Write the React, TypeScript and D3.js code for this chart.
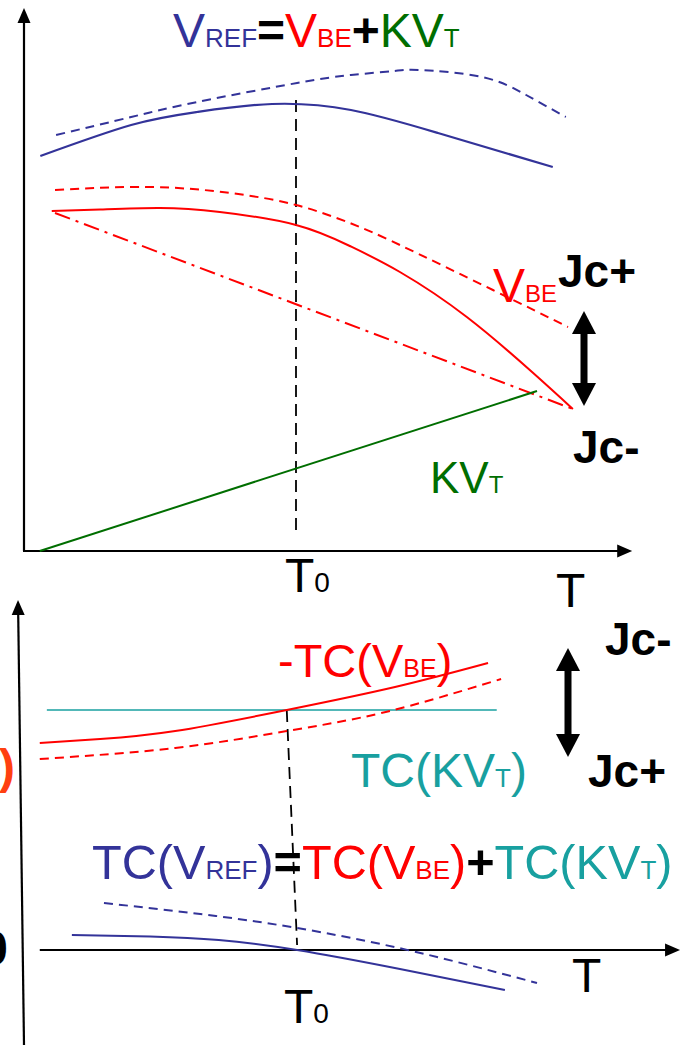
import React from "react";
import * as d3 from "d3";

// Temperature runs 0..100 with T0 at 50; voltages and TC values in arbitrary units.
const T0 = 50;

// Upper panel: voltages vs temperature
const vrefT = [3, 19.7, 31.8, 45.6, 60.1, 76.1, 97.2];
const vrefV = [79, 85.2, 87.8, 89.4, 88.2, 83.6, 76.8];
const vrefJcT = [5.9, 19.7, 31.8, 50.2, 60.1, 68, 73, 84.2, 92.3, 99.6];
const vrefJcV = [83.2, 86.8, 89.8, 93.6, 95.2, 96, 96.2, 94.8, 91.2, 86.8];
const vbeT = [5.1, 14, 25, 36, 50, 59.9, 69.1, 81.4, 93.6, 100.9];
const vbeV = [68, 68.3, 68.6, 67.8, 65.2, 61, 55.8, 46.8, 35.6, 28.4];
const vbeJcT = [5.7, 23.2, 37.9, 50, 59.9, 69.1, 86.2, 100];
const vbeJcV = [72.2, 72.8, 71.6, 69.2, 65.6, 61.2, 52.2, 44.8];
const vbeLinT = [5.7, 100.9];
const vbeLinV = [67.6, 28.4];
const kvtT = [2.9, 94.3];
const kvtV = [0, 32];
const t0TopV = [90.2, 3.2];

// Lower panel: temperature coefficients vs temperature
const tcKvtT = [4.2, 86.9];
const tcKvtV = [48, 48];
const tcVbeT = [2.9, 14, 27.8, 48.3, 68.2, 85.3];
const tcVbeV = [41.4, 42.2, 43.8, 48, 52.6, 57.4];
const tcVbeJcT = [2.9, 27.8, 48.3, 66.5, 87.7];
const tcVbeJcV = [38.2, 40.4, 43.8, 47.6, 54.2];
const tcVrefT = [8.8, 23.2, 35.8, 50.2, 69.1, 88.4];
const tcVrefV = [3, 2.7, 2, 0, -3.8, -8];
const tcVrefJcT = [14.7, 32.4, 50.2, 71.3, 94.3];
const tcVrefJcV = [9.4, 7.2, 4.4, -0.2, -6.6];
const t0BotT = [48.3, 50.2];
const t0BotV = [48, 1];

const W = 687;
const H = 1045;

const BLUE = "#333399";
const RED = "#ff0000";
const GREEN = "#006e00";
const TEAL = "#18a0a0";
const FONT = "'Liberation Sans', Arial, sans-serif";

const xScale = d3.scaleLinear().domain([0, 100]).range([24, 568]);
const yTop = d3.scaleLinear().domain([0, 100]).range([551, 51]);
const yBot = d3.scaleLinear().domain([0, 100]).range([950, 450]);

type P = [number, number];
const zip = (ts: number[], vs: number[]): P[] => ts.map((t, i) => [t, vs[i]]);

const smoothTop = d3
  .line<P>()
  .x((d) => xScale(d[0]))
  .y((d) => yTop(d[1]))
  .curve(d3.curveNatural);
const straightTop = d3
  .line<P>()
  .x((d) => xScale(d[0]))
  .y((d) => yTop(d[1]));
const smoothBot = d3
  .line<P>()
  .x((d) => xScale(d[0]))
  .y((d) => yBot(d[1]))
  .curve(d3.curveNatural);
const straightBot = d3
  .line<P>()
  .x((d) => xScale(d[0]))
  .y((d) => yBot(d[1]));

// Filled triangular arrow head pointing from (x0,y0) toward tip (x1,y1)
function head(x0: number, y0: number, x1: number, y1: number, len = 15, half = 6.5) {
  const dx = x1 - x0;
  const dy = y1 - y0;
  const n = Math.hypot(dx, dy);
  const ux = dx / n;
  const uy = dy / n;
  const bx = x1 - ux * len;
  const by = y1 - uy * len;
  return `M${x1},${y1}L${bx - uy * half},${by + ux * half}L${bx + uy * half},${by - ux * half}Z`;
}

function Axis({ x0, y0, x1, y1 }: { x0: number; y0: number; x1: number; y1: number }) {
  const n = Math.hypot(x1 - x0, y1 - y0);
  const sx = x1 - ((x1 - x0) / n) * 12;
  const sy = y1 - ((y1 - y0) / n) * 12;
  return (
    <g>
      <line x1={x0} y1={y0} x2={sx} y2={sy} stroke="#000" strokeWidth={2.2} />
      <path d={head(x0, y0, x1, y1)} fill="#000" />
    </g>
  );
}

// Thick vertical double-headed arrow for the Jc+/Jc- shift
function DoubleArrow({ x, yTopPx, yBotPx }: { x: number; yTopPx: number; yBotPx: number }) {
  const hl = 23;
  const hw = 12;
  return (
    <g fill="#000">
      <rect x={x - 3.5} y={yTopPx + hl - 2} width={7} height={yBotPx - yTopPx - 2 * hl + 4} />
      <path d={`M${x},${yTopPx}L${x + hw},${yTopPx + hl}L${x - hw},${yTopPx + hl}Z`} />
      <path d={`M${x},${yBotPx}L${x + hw},${yBotPx - hl}L${x - hw},${yBotPx - hl}Z`} />
    </g>
  );
}

function Label({
  x,
  y,
  main,
  sub,
  color,
  size = 48,
  subSize = 26,
}: {
  x: number;
  y: number;
  main: string;
  sub?: string;
  color: string;
  size?: number;
  subSize?: number;
}) {
  return (
    <text x={x} y={y} fill={color} fontSize={size} fontFamily={FONT}>
      {main}
      {sub ? <tspan fontSize={subSize}>{sub}</tspan> : null}
    </text>
  );
}

export default function App() {
  const xT0 = xScale(T0);
  return (
    <svg
      width={W}
      height={H}
      viewBox={`0 0 ${W} ${H}`}
      style={{ position: "absolute", left: 0, top: 0, background: "#fff" }}
    >
      {/* ---------- upper panel ---------- */}
      <Axis x0={xScale(0)} y0={yTop(0)} x1={xScale(0)} y1={yTop(108.6)} />
      <Axis x0={xScale(0) - 1} y0={yTop(0)} x1={xScale(111.8)} y1={yTop(0)} />

      <path
        d={straightTop(zip([T0, T0], t0TopV)) || ""}
        fill="none"
        stroke="#000"
        strokeWidth={1.8}
        strokeDasharray="12 7"
      />

      <path d={smoothTop(zip(vrefT, vrefV)) || ""} fill="none" stroke={BLUE} strokeWidth={2.2} />
      <path
        d={smoothTop(zip(vrefJcT, vrefJcV)) || ""}
        fill="none"
        stroke={BLUE}
        strokeWidth={2}
        strokeDasharray="9 6"
      />
      <path d={smoothTop(zip(vbeT, vbeV)) || ""} fill="none" stroke={RED} strokeWidth={2} />
      <path
        d={smoothTop(zip(vbeJcT, vbeJcV)) || ""}
        fill="none"
        stroke={RED}
        strokeWidth={2}
        strokeDasharray="9 6"
      />
      <path
        d={straightTop(zip(vbeLinT, vbeLinV)) || ""}
        fill="none"
        stroke={RED}
        strokeWidth={2}
        strokeDasharray="16 6 3 6"
      />
      <path d={straightTop(zip(kvtT, kvtV)) || ""} fill="none" stroke={GREEN} strokeWidth={2} />

      <DoubleArrow x={584} yTopPx={311} yBotPx={406} />

      <text x={173} y={47} fontSize={48} fontFamily={FONT}>
        <tspan fill={BLUE}>V</tspan>
        <tspan fill={BLUE} fontSize={26}>REF</tspan>
        <tspan fill="#000" fontWeight="bold">=</tspan>
        <tspan fill={RED}>V</tspan>
        <tspan fill={RED} fontSize={26}>BE</tspan>
        <tspan fill="#000" fontWeight="bold">+</tspan>
        <tspan fill={GREEN}>KV</tspan>
        <tspan fill={GREEN} fontSize={26}>T</tspan>
      </text>

      <Label x={493} y={302} main="V" sub="BE" color={RED} size={48} subSize={24} />
      <Label x={430} y={493} main="KV" sub="T" color={GREEN} size={44} subSize={24} />
      <text x={558} y={287} fontSize={46} fontWeight="bold" fontFamily={FONT}>Jc+</text>
      <text x={573} y={463} fontSize={46} fontWeight="bold" fontFamily={FONT}>Jc-</text>
      <Label x={xT0 - 11} y={592} main="T" sub="0" color="#000" size={48} subSize={28} />
      <Label x={556} y={607} main="T" color="#000" size={48} />

      {/* ---------- lower panel ---------- */}
      <Axis x0={xScale(0)} y0={yBot(-19)} x1={xScale(-1.1)} y1={yBot(70)} />
      <Axis x0={xScale(2.9)} y0={yBot(0)} x1={xScale(120.6)} y1={yBot(0)} />

      <path d={straightBot(zip(tcKvtT, tcKvtV)) || ""} fill="none" stroke={TEAL} strokeWidth={1.6} />
      <path
        d={straightBot(zip(t0BotT, t0BotV)) || ""}
        fill="none"
        stroke="#000"
        strokeWidth={1.8}
        strokeDasharray="12 7"
      />
      <path d={smoothBot(zip(tcVbeT, tcVbeV)) || ""} fill="none" stroke={RED} strokeWidth={2} />
      <path
        d={smoothBot(zip(tcVbeJcT, tcVbeJcV)) || ""}
        fill="none"
        stroke={RED}
        strokeWidth={2}
        strokeDasharray="9 6"
      />
      <path d={smoothBot(zip(tcVrefT, tcVrefV)) || ""} fill="none" stroke={BLUE} strokeWidth={2} />
      <path
        d={smoothBot(zip(tcVrefJcT, tcVrefJcV)) || ""}
        fill="none"
        stroke={BLUE}
        strokeWidth={2}
        strokeDasharray="9 6"
      />

      <DoubleArrow x={568} yTopPx={648} yBotPx={757} />

      <text x={278} y={677} fontSize={47} fontFamily={FONT} fill={RED}>
        -TC(V<tspan fontSize={25}>BE</tspan>)
      </text>
      <text x={351} y={787} fontSize={48} fontFamily={FONT} fill={TEAL}>
        TC(KV<tspan fontSize={26}>T</tspan>)
      </text>
      <text x={605} y={655} fontSize={46} fontWeight="bold" fontFamily={FONT}>Jc-</text>
      <text x={588} y={787} fontSize={46} fontWeight="bold" fontFamily={FONT}>Jc+</text>

      <text x={92} y={879} fontSize={48.6} fontFamily={FONT}>
        <tspan fill={BLUE}>TC(V</tspan>
        <tspan fill={BLUE} fontSize={26}>REF</tspan>
        <tspan fill={BLUE}>)</tspan>
        <tspan fill="#000" fontWeight="bold">=</tspan>
        <tspan fill={RED}>TC(V</tspan>
        <tspan fill={RED} fontSize={26}>BE</tspan>
        <tspan fill={RED}>)</tspan>
        <tspan fill="#000" fontWeight="bold">+</tspan>
        <tspan fill={TEAL}>TC(KV</tspan>
        <tspan fill={TEAL} fontSize={26}>T</tspan>
        <tspan fill={TEAL}>)</tspan>
      </text>

      <Label x={xT0 - 12} y={1023} main="T" sub="0" color="#000" size={48} subSize={28} />
      <Label x={572} y={992} main="T" color="#000" size={48} />

      {/* side labels running off the left edge */}
      <text x={15} y={783} textAnchor="end" fontSize={48} fontWeight="bold" fontFamily={FONT} fill="#ff4010">
        TC(V<tspan fontSize={26}>BE</tspan>)
      </text>
      <text x={8} y={965} textAnchor="end" fontSize={48} fontWeight="bold" fontFamily={FONT} fill="#000">
        0
      </text>
    </svg>
  );
}
